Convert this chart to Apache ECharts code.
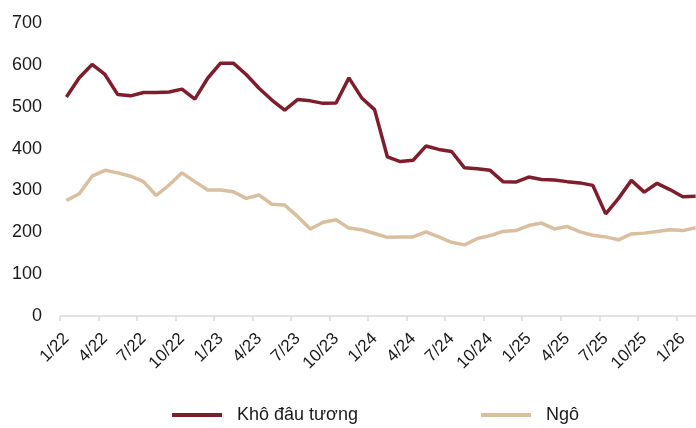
<!DOCTYPE html>
<html>
<head>
<meta charset="utf-8">
<script src="https://cdn.jsdelivr.net/npm/echarts@6/dist/echarts.min.js"></script>
<style>
html,body{margin:0;padding:0;background:#fff;}
#c{width:696px;height:428px;}
</style>
</head>
<body>
<div id="c"></div>
<script>
const categories = [
  "1/22","2/22","3/22","4/22","5/22","6/22","7/22","8/22","9/22","10/22","11/22","12/22",
  "1/23","2/23","3/23","4/23","5/23","6/23","7/23","8/23","9/23","10/23","11/23","12/23",
  "1/24","2/24","3/24","4/24","5/24","6/24","7/24","8/24","9/24","10/24","11/24","12/24",
  "1/25","2/25","3/25","4/25","5/25","6/25","7/25","8/25","9/25","10/25","11/25","12/25",
  "1/26","2/26"
];
const soybeanMeal = [523,569,601,577,529,526,534,534,535,542,518,568,604,604,577,544,516,492,517,514,508,509,569,521,493,380,369,372,406,398,393,354,352,348,321,320,332,326,325,321,318,312,244,281,324,296,317,302,285,286];
const corn = [276,292,334,348,342,334,321,288,313,342,321,301,301,297,281,289,267,265,238,208,224,230,210,206,197,188,189,189,201,189,176,170,185,192,202,204,216,222,208,214,201,193,189,182,196,198,202,206,204,211];
const seriesNames = ["Khô đâu tương", "Ngô"];
const yTicks = {min: 0, max: 700, interval: 100};

const chart = echarts.init(document.getElementById('c'), null, {renderer: 'canvas'});
const font = "'Liberation Sans', Arial, sans-serif";
const legendBase = {
  top: 401, itemWidth: 50, itemHeight: 4, icon: 'rect', itemGap: 0,
  textStyle: {fontFamily: font, fontSize: 18, color: '#1a1a1a', padding: [7,0,0,10]}
};
chart.setOption({
  animation: false,
  backgroundColor: '#ffffff',
  grid: {left: 60, width: 642, top: 23, bottom: 112, containLabel: false, outerBoundsMode: 'none'},
  legend: [
    Object.assign({}, legendBase, {left: 167, data: [seriesNames[0]]}),
    Object.assign({}, legendBase, {left: 476, data: [seriesNames[1]]})
  ],
  xAxis: {
    type: 'category',
    data: categories,
    boundaryGap: true,
    axisLine: {show: true, lineStyle: {color: '#d9d9d9', width: 1.5}},
    axisTick: {show: true, interval: 2, length: 5, lineStyle: {color: '#d9d9d9', width: 1.5}},
    axisLabel: {interval: 2, rotate: 45, margin: 20, fontFamily: font, fontSize: 17, color: '#1a1a1a'},
    splitLine: {show: false}
  },
  yAxis: {
    type: 'value',
    min: yTicks.min, max: yTicks.max, interval: yTicks.interval,
    axisLine: {show: false},
    axisTick: {show: false},
    splitLine: {show: false},
    axisLabel: {margin: 18, fontFamily: font, fontSize: 18, color: '#1a1a1a'}
  },
  series: [
    {name: seriesNames[0], type: 'line', data: soybeanMeal, symbol: 'none',
     lineStyle: {color: '#7e1e2c', width: 3.5}, itemStyle: {color: '#7e1e2c'}},
    {name: seriesNames[1], type: 'line', data: corn, symbol: 'none',
     lineStyle: {color: '#d8bf9f', width: 3.5}, itemStyle: {color: '#d8bf9f'}}
  ]
});
</script>
</body>
</html>
